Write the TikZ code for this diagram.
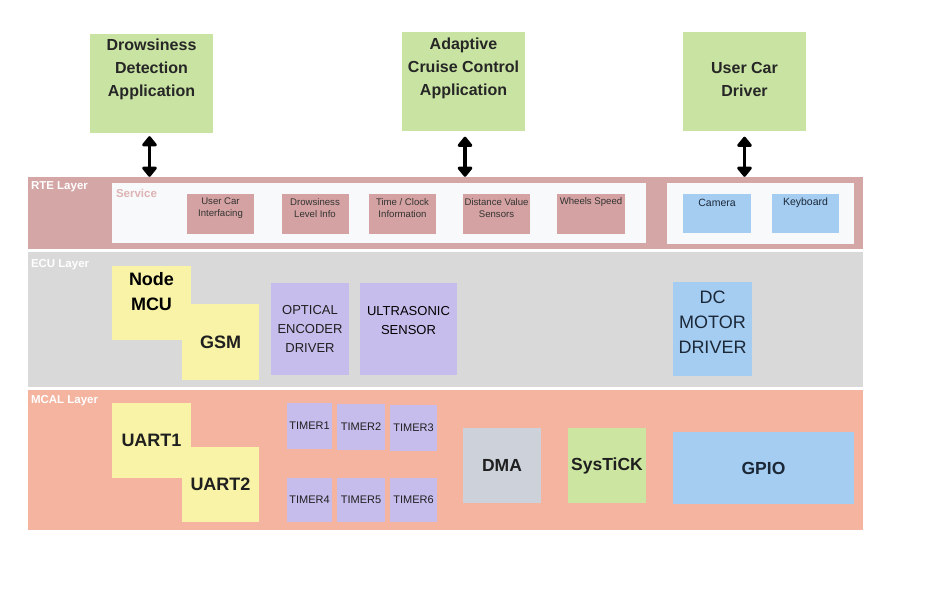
\documentclass[tikz,border=0pt]{standalone}
\usepackage{fontspec}
\setmainfont{Liberation Sans}
\usepackage{xcolor}
\usepackage{tikz}
\usetikzlibrary{
    positioning,
    calc,
    arrows.meta
}
\definecolor{appgreen}{HTML}{C9E4A2}
\definecolor{rtepink}{HTML}{D5A6A6}
\definecolor{itempink}{HTML}{D4A2A2}
\definecolor{panelwhite}{HTML}{F8F9FB}
\definecolor{servicetitle}{HTML}{DDB3B3}
\definecolor{ecugrey}{HTML}{D9D9D9}
\definecolor{mcalsalmon}{HTML}{F4B4A0}
\definecolor{noteyellow}{HTML}{F8F3A6}
\definecolor{lavender}{HTML}{C7BDEC}
\definecolor{skyblue}{HTML}{A5CDF2}
\definecolor{dmagrey}{HTML}{CDD1DA}
\definecolor{tickgreen}{HTML}{CCE6A1}
\definecolor{navytext}{HTML}{1B2838}
\tikzset{
  basic/.style = {
      rectangle,
      draw=none,
      inner sep=0pt,
      align=center,
      text=black!88
  },
  layer/.style = {
      basic,
      minimum width=835
  },
  layertext/.style = {
      font=\fontsize{11.5}{13}\selectfont\bfseries,
      text=white,
      anchor=north west,
      inner sep=3pt,
      yshift=-2pt
  },
  panel/.style = {
      basic,
      fill=panelwhite
  },
  app/.style = {
      basic,
      fill=appgreen,
      minimum width=123,
      minimum height=99
  },
  apptext/.style = {
      font=\fontsize{16}{23}\selectfont\bfseries,
      align=center,
      text=black!85
  },
  service/.style = {
      basic,
      fill=itempink,
      minimum width=67,
      minimum height=40
  },
  servicetext/.style = {
      font=\fontsize{9.6}{11.7}\selectfont,
      align=center,
      text=black!80
  },
  device/.style = {
      basic,
      fill=skyblue,
      minimum width=68,
      minimum height=39
  },
  devicetext/.style = {
      font=\fontsize{10.5}{12}\selectfont,
      text=navytext
  },
  note/.style = {
      basic,
      fill=noteyellow,
      minimum width=78,
      minimum height=75,
      font=\fontsize{18}{25}\selectfont\bfseries
  },
  driver/.style = {
      basic,
      fill=lavender,
      minimum height=92,
      font=\fontsize{13}{19}\selectfont
  },
  timer/.style = {
      basic,
      fill=lavender,
      minimum width=46,
      minimum height=46,
      font=\fontsize{11}{13}\selectfont
  },
  periph/.style = {
      basic,
      minimum width=78,
      minimum height=75,
      font=\fontsize{17.5}{20}\selectfont\bfseries
  },
  biarrow/.style = {
      line width=3.4pt,
      line join=round,
      {Triangle[length=11pt,width=17pt,round]}-{Triangle[length=11pt,width=17pt,round]}
  }
}
\begin{document}
\begin{tikzpicture}[x=1pt, y=-1pt]
    \useasboundingbox[fill=white] (0,0) rectangle (941,612);
    % Layers
    \node[layer, fill=rtepink, minimum height=72,
        label={[layertext]north west:RTE Layer}] (rte) at (445.5,213) {};
    \node[layer, fill=ecugrey, minimum height=135,
        label={[layertext, yshift=-2pt]north west:ECU Layer}] (ecu) at (445.5,319.5) {};
    \node[layer, fill=mcalsalmon, minimum height=140,
        label={[layertext]north west:MCAL Layer}] (mcal) at (445.5,460) {};
    % Applications
    \node[app, label={[apptext, yshift=14.5pt]center:Drowsiness\\Detection\\Application}] (ddApp) at (151.5,83.5) {};
    \node[app, label={[apptext, yshift=14pt]center:Adaptive\\Cruise Control\\Application}] (accApp) at (463.5,82) {};
    \node[app, label={[apptext, yshift=3pt]center:User Car\\Driver}] (ucdApp) at (744.5,82) {};
    % Edges
    \draw[biarrow] ([xshift=-2pt, yshift=-3pt]ddApp.south) -- ([xshift=-2pt]ddApp.south |- rte.north);
    \draw[biarrow] ([xshift=1.5pt, yshift=-5pt]accApp.south) -- ([xshift=1.5pt]accApp.south |- rte.north);
    \draw[biarrow] ([yshift=-5pt]ucdApp.south) -- (ucdApp.south |- rte.north);
    % RTE layer
    \node[panel, minimum width=534, minimum height=60,
        label={[layertext, text=servicetitle, inner sep=4pt, yshift=0pt]north west:Service}] (svcPanel) at (379,213) {};
    \node[panel, minimum width=187, minimum height=61] (hwPanel) at (760.5,213.5) {};
    \node[service, label={[servicetext, yshift=6pt]center:User Car\\Interfacing}] (ucInt) at (220.5,214) {};
    \node[service, label={[servicetext, yshift=6pt]center:Drowsiness\\Level Info}] (drLvl) at (315,214) {};
    \node[service, label={[servicetext, yshift=6pt]center:Time / Clock\\Information}] (tmClk) at (402.5,214) {};
    \node[service, label={[servicetext, yshift=6pt]center:Distance Value\\Sensors}] (dist) at (496.5,214) {};
    \node[service, minimum width=68, label={[servicetext, yshift=12pt]center:Wheels Speed}] (whl) at (591,214) {};
    \node[device, label={[devicetext, yshift=10.5pt]center:Camera}] (cam) at (717,213.5) {};
    \node[device, minimum width=67, label={[devicetext, yshift=10.5pt]center:Keyboard}] (keyb) at (805.5,213.5) {};
    % ECU layer
    \node[note, minimum width=79, minimum height=74,
        label={[font=\fontsize{18}{25}\selectfont\bfseries, align=center, yshift=11.5pt]center:Node\\MCU}] (mcu) at (151.5,303) {};
    \node[note, minimum width=77, minimum height=76] (gsm) at (220.5,342) {GSM};
    \node[driver, minimum width=78] (optEnc) at (310,329) {OPTICAL\\ENCODER\\DRIVER};
    \node[driver, minimum width=97,
        label={[font=\fontsize{13}{19}\selectfont, align=center, yshift=8.5pt]center:ULTRASONIC\\SENSOR}] (ultra) at (408.5,329) {};
    \node[basic, fill=skyblue, minimum width=79, minimum height=94,
        label={[font=\fontsize{18}{25}\selectfont, align=center, text=navytext, yshift=7pt]center:DC\\MOTOR\\DRIVER}] (dcMotor) at (712.5,329) {};
    % MCAL layer
    \node[note, minimum width=79] (uart1) at (151.5,440.5) {UART1};
    \node[note, minimum width=77] (uart2) at (220.5,484.5) {UART2};
    \node[timer, minimum width=45] (tim1) at (309.5,425.5) {TIMER1};
    \node[timer, minimum width=48] (tim2) at (361,426.5) {TIMER2};
    \node[timer, minimum width=47] (tim3) at (413.5,428) {TIMER3};
    \node[timer, minimum width=45, minimum height=44] (tim4) at (309.5,500) {TIMER4};
    \node[timer, minimum width=48, minimum height=44] (tim5) at (361,500) {TIMER5};
    \node[timer, minimum width=47, minimum height=44] (tim6) at (413.5,500) {TIMER6};
    \node[periph, fill=dmagrey] (dma) at (502,465.5) {DMA};
    \node[periph, fill=tickgreen] (sysTick) at (607,465.5) {SysTiCK};
    \node[periph, fill=skyblue, text=navytext, minimum width=181, minimum height=72] (gpio) at (763.5,468) {GPIO};
\end{tikzpicture}
\end{document}
